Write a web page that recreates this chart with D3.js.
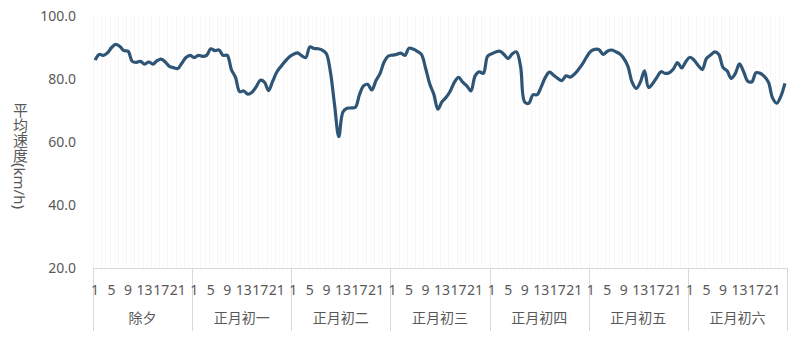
<!DOCTYPE html>
<html>
<head>
<meta charset="utf-8">
<script src="https://cdn.jsdelivr.net/npm/d3@7"></script>
<style>
  body { margin: 0; background: #fff; }
  text { font-family: "Noto Sans", "Noto Sans CJK SC", sans-serif; fill: #595959; }
</style>
</head>
<body>
<svg id="chart" width="800" height="337"></svg>
<script>
// days and hourly average speed (km/h)
var days = ["除夕", "正月初一", "正月初二", "正月初三", "正月初四", "正月初五", "正月初六"];
var hours = d3.range(1, 25);
var hourTicks = [1, 5, 9, 13, 17, 21];
var yTicks = [20, 40, 60, 80, 100];

var speed0 = [86.0, 87.8, 87.5, 88.3, 90.0, 91.0, 90.3, 89.0, 88.8, 85.6, 85.3, 85.6,
              84.7, 85.4, 84.7, 85.8, 86.3, 85.4, 84.0, 83.6, 83.3, 85.0, 86.8, 87.5];
var speed1 = [86.8, 87.5, 87.2, 87.5, 89.6, 89.0, 89.2, 87.5, 87.5, 83.0, 80.5, 76.0,
              76.2, 75.2, 75.8, 77.5, 79.6, 79.0, 76.3, 79.3, 82.2, 84.0, 85.6, 87.0];
var speed2 = [87.8, 88.3, 87.4, 86.8, 90.2, 89.7, 89.6, 89.2, 88.0, 82.0, 71.5, 61.7,
              69.5, 70.7, 70.8, 71.0, 75.0, 77.8, 78.3, 76.5, 79.5, 81.8, 85.5, 87.3];
var speed3 = [87.6, 87.8, 88.2, 87.5, 89.8, 89.5, 88.8, 87.8, 83.5, 78.5, 75.2, 70.4,
              72.8, 74.2, 76.2, 79.0, 80.5, 79.0, 77.8, 76.2, 81.0, 82.3, 81.8, 87.2];
var speed4 = [88.0, 88.6, 88.8, 87.8, 86.5, 88.0, 88.6, 84.0, 72.7, 72.3, 75.0, 75.0,
              77.5, 80.5, 82.2, 81.2, 80.2, 79.5, 81.0, 80.6, 81.5, 83.0, 84.8, 87.0];
var speed5 = [88.8, 89.4, 89.3, 87.8, 88.8, 89.2, 88.7, 88.0, 86.5, 84.0, 79.0, 77.0,
              79.0, 82.6, 77.3, 78.6, 80.5, 82.3, 81.8, 82.0, 83.2, 85.2, 83.5, 85.5];
var speed6 = [86.9, 86.0, 84.3, 83.0, 86.5, 87.6, 88.6, 87.8, 83.7, 82.6, 80.2, 81.8,
              84.8, 82.3, 79.3, 79.1, 82.0, 81.8, 80.8, 79.0, 74.0, 72.3, 74.5, 78.6];

var speeds = [speed0, speed1, speed2, speed3, speed4, speed5, speed6];

var plotLeft = 93, plotRight = 787, plotTop = 16, plotBottom = 268;

var points = [];
days.forEach(function(d, i){
    hours.forEach(function(h, j){
        points.push({ day: d, hour: h, key: i + "-" + h, v: speeds[i][j] });
    });
});

var svg = d3.select("#chart");

var xDay = d3.scaleBand().domain(days).range([plotLeft, plotRight]);
var x = d3.scaleBand().domain(points.map(function(p){ return p.key; })).range([plotLeft, plotRight]);
var y = d3.scaleLinear().domain([20, 100]).range([plotBottom, plotTop]);

// faint vertical stripes for each hour
svg.append("g")
    .selectAll("line")
    .data(points)
    .enter().append("line")
    .attr("x1", function(p){ return Math.round(x(p.key)) + 0.5; })
    .attr("x2", function(p){ return Math.round(x(p.key)) + 0.5; })
    .attr("y1", plotTop)
    .attr("y2", plotBottom)
    .style("stroke", function(p){ return p.hour % 2 ? "#f6f6f6" : "#fafafa"; })
    .style("stroke-width", 1);

// y axis labels
var yAxis = svg.append("g")
    .attr("transform", "translate(" + (plotLeft - 17) + ",0)")
    .call(d3.axisLeft(y).tickValues(yTicks).tickSize(0).tickFormat(d3.format(".1f")));
yAxis.select(".domain").remove();
yAxis.selectAll("text")
    .attr("x", 0)
    .style("font-size", "14px")
    .style("fill", "#595959");

// axis title, vertical
svg.append("text")
    .attr("x", 20)
    .attr("y", 156)
    .attr("text-anchor", "middle")
    .style("writing-mode", "vertical-rl")
    .style("text-orientation", "mixed")
    .style("font-size", "15px")
    .text("平均速度(km/h)");

// category axis
var axisColor = "#d9d9d9";
svg.append("line")
    .attr("x1", plotLeft).attr("x2", plotRight)
    .attr("y1", plotBottom + 0.5).attr("y2", plotBottom + 0.5)
    .style("stroke", axisColor);

var seps = days.map(function(d){ return xDay(d); }).concat([plotRight]);
svg.append("g")
    .selectAll("line")
    .data(seps)
    .enter().append("line")
    .attr("x1", function(s){ return Math.round(s) + 0.5; })
    .attr("x2", function(s){ return Math.round(s) + 0.5; })
    .attr("y1", plotBottom)
    .attr("y2", 331)
    .style("stroke", axisColor);

var tickPts = points.filter(function(p){ return hourTicks.indexOf(p.hour) >= 0; });
svg.append("g")
    .selectAll("text")
    .data(tickPts)
    .enter().append("text")
    .attr("x", function(p){ return x(p.key) + x.bandwidth() / 2; })
    .attr("y", 295)
    .attr("text-anchor", "middle")
    .style("font-size", "14px")
    .text(function(p){ return p.hour; });

svg.append("g")
    .selectAll("text")
    .data(days)
    .enter().append("text")
    .attr("x", function(d){ return xDay(d) + xDay.bandwidth() / 2; })
    .attr("y", 323)
    .attr("text-anchor", "middle")
    .style("font-size", "14px")
    .text(function(d){ return d; });

// speed line
var line = d3.line()
    .x(function(p){ return x(p.key) + x.bandwidth() / 2; })
    .y(function(p){ return y(p.v); })
    .curve(d3.curveCatmullRom.alpha(0.5));

svg.append("path")
    .datum(points)
    .attr("d", line)
    .style("fill", "none")
    .style("stroke", "#2f5576")
    .style("stroke-width", 3.2)
    .style("stroke-linejoin", "round");
</script>
</body>
</html>
